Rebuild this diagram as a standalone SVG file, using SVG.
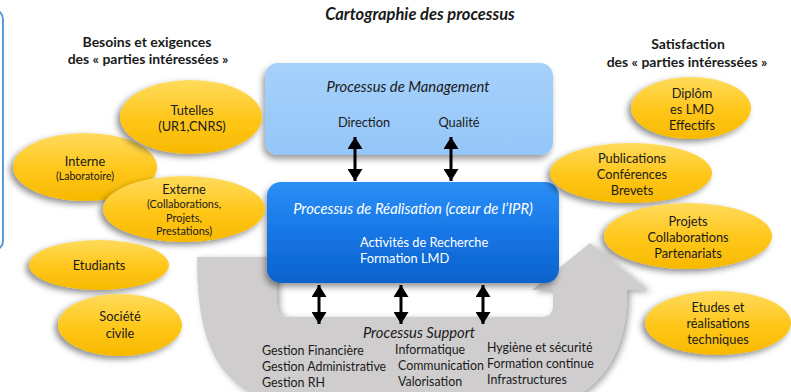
<svg xmlns="http://www.w3.org/2000/svg" width="791" height="392" viewBox="0 0 791 392">
<defs>
<linearGradient id="gold" x1="0" y1="0" x2="0" y2="1">
<stop offset="0" stop-color="#FFDB5C"/>
<stop offset="0.55" stop-color="#FFC618"/>
<stop offset="1" stop-color="#F7B900"/>
</linearGradient>
<linearGradient id="lightblue" x1="0" y1="0" x2="0" y2="1">
<stop offset="0" stop-color="#A6D1FB"/>
<stop offset="1" stop-color="#94C6F8"/>
</linearGradient>
<linearGradient id="darkblue" x1="0" y1="0" x2="0" y2="1">
<stop offset="0" stop-color="#2B90F6"/>
<stop offset="0.5" stop-color="#1676E6"/>
<stop offset="1" stop-color="#0B62CC"/>
</linearGradient>
<filter id="shadow" x="-20%" y="-20%" width="140%" height="150%">
<feDropShadow dx="-3" dy="3" stdDeviation="3" flood-color="#000" flood-opacity="0.45"/>
</filter>
<filter id="boxshadow" x="-10%" y="-10%" width="120%" height="130%">
<feDropShadow dx="-2" dy="4" stdDeviation="3" flood-color="#000" flood-opacity="0.4"/>
</filter>
<filter id="grayshadow" x="-10%" y="-10%" width="120%" height="130%">
<feDropShadow dx="3" dy="2" stdDeviation="3" flood-color="#000" flood-opacity="0.35"/>
</filter>
<marker id="ah" viewBox="0 0 12 15" markerWidth="12" markerHeight="15" refX="12" refY="7.5" orient="auto-start-reverse" markerUnits="userSpaceOnUse">
<path d="M0,0 L12,7.5 L0,15 z" fill="#000"/>
</marker>
<style>
text{font-family:Lato,"Liberation Sans",sans-serif;fill:#1a1a1a;}
.h{font-weight:bold;font-size:14px;text-anchor:middle;}
.title{font-weight:bold;font-style:italic;font-size:16.5px;text-anchor:middle;}
.e{fill:url(#gold);filter:url(#shadow);}
.t{font-size:12.8px;text-anchor:middle;}
.s{font-size:10.9px;text-anchor:middle;}
.w{fill:#fff;}
.it{font-style:italic;font-size:14.8px;text-anchor:middle;}
.sup{font-size:12.4px;}
.arr{stroke:#000;stroke-width:3;fill:none;marker-start:url(#ah);marker-end:url(#ah);}
</style>
</defs>
<rect width="791" height="392" fill="#fff"/>
<rect x="-20" y="10" width="23" height="240" rx="9" fill="none" stroke="#5B9BD5" stroke-width="2"/>
<text class="title" x="420" y="20">Cartographie des processus</text>
<text class="h" x="147" y="47">Besoins et exigences</text>
<text class="h" x="148" y="64">des « parties intéressées »</text>
<text class="h" x="688" y="49">Satisfaction</text>
<text class="h" x="687" y="67">des « parties intéressées »</text>

<g id="support">
<path d="M197,257 L277,257 L277,305 Q277,317 289,317 L541,317 Q553,317 553,305 L553,290 L532,290 L590,243 L648,290 L627,290 C627,350 605,395 540,410 L300,410 C220,395 197,350 197,257 Z" fill="#CFCDCE" filter="url(#grayshadow)"/>
<text class="it" x="419" y="338">Processus Support</text>
<text class="sup" x="262" y="355">Gestion Financière</text>
<text class="sup" x="262" y="371">Gestion Administrative</text>
<text class="sup" x="262" y="387">Gestion RH</text>
<text class="sup" x="395" y="354">Informatique</text>
<text class="sup" x="398" y="370">Communication</text>
<text class="sup" x="398" y="386">Valorisation</text>
<text class="sup" x="487" y="352">Hygiène et sécurité</text>
<text class="sup" x="487" y="368">Formation continue</text>
<text class="sup" x="487" y="384">Infrastructures</text>
</g>

<g id="management">
<rect x="265" y="63" width="288" height="92" rx="13" fill="url(#lightblue)" filter="url(#boxshadow)"/>
<text class="it" x="408" y="92">Processus de Management</text>
<text class="t" x="364" y="127">Direction</text>
<text class="t" x="459" y="127">Qualité</text>
</g>

<g id="realisation">
<rect x="267" y="182" width="292" height="101" rx="14" fill="url(#darkblue)" filter="url(#boxshadow)"/>
<text class="it w" x="413" y="214">Processus de Réalisation (cœur de l’IPR)</text>
<text class="t w" x="360" y="247" style="text-anchor:start">Activités de Recherche</text>
<text class="t w" x="360" y="263" style="text-anchor:start">Formation LMD</text>
</g>

<g id="interne"><ellipse class="e" cx="85" cy="167" rx="72" ry="34"/><text class="t" x="85" y="166">Interne</text><text class="s" x="85" y="180" style="font-size:10.5px">(Laboratoire)</text></g>
<g id="tutelles"><ellipse class="e" cx="191" cy="117" rx="71" ry="37"/><text class="t" x="192" y="115">Tutelles</text><text class="t" x="192" y="131">(UR1,CNRS)</text></g>
<g id="externe"><ellipse class="e" cx="184" cy="209" rx="81" ry="33"/><text class="t" x="184" y="194">Externe</text><text class="s" x="184" y="208">(Collaborations,</text><text class="s" x="184" y="222">Projets,</text><text class="s" x="184" y="235">Prestations)</text></g>
<g id="etudiants"><ellipse class="e" cx="99" cy="265" rx="70" ry="25"/><text class="t" x="99" y="270">Etudiants</text></g>
<g id="societe"><ellipse class="e" cx="120" cy="325" rx="62" ry="31"/><text class="t" x="120" y="321">Société</text><text class="t" x="120" y="338">civile</text></g>

<g id="diplomes"><ellipse class="e" cx="691" cy="108" rx="60" ry="31"/><text class="t" x="692" y="98">Diplôm</text><text class="t" x="692" y="114">es LMD</text><text class="t" x="692" y="130">Effectifs</text></g>
<g id="publications"><ellipse class="e" cx="631" cy="173" rx="81" ry="30"/><text class="t" x="632" y="163">Publications</text><text class="t" x="632" y="179">Conférences</text><text class="t" x="632" y="195">Brevets</text></g>
<g id="projets"><ellipse class="e" cx="688" cy="236" rx="84" ry="33"/><text class="t" x="688" y="226">Projets</text><text class="t" x="688" y="242">Collaborations</text><text class="t" x="688" y="258">Partenariats</text></g>
<g id="etudes"><ellipse class="e" cx="718" cy="323" rx="73" ry="32"/><text class="t" x="718" y="312">Etudes et</text><text class="t" x="718" y="328">réalisations</text><text class="t" x="718" y="344">techniques</text></g>

<g id="connectors">
<line class="arr" x1="355" y1="137" x2="355" y2="181"/>
<line class="arr" x1="451" y1="137" x2="451" y2="181"/>
<line class="arr" x1="319" y1="285" x2="319" y2="324"/>
<line class="arr" x1="401" y1="285" x2="401" y2="324"/>
<line class="arr" x1="483" y1="285" x2="483" y2="324"/>
</g>
</svg>
